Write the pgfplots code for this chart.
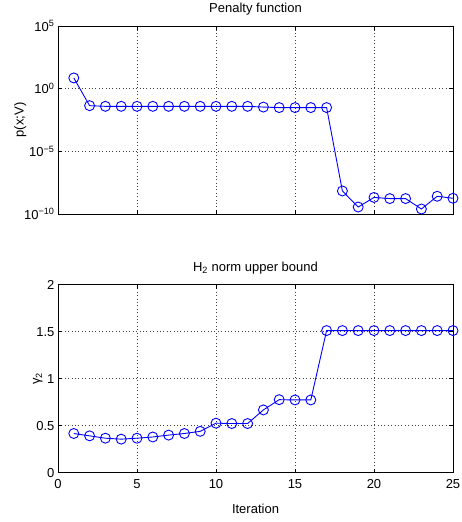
\documentclass[border=0pt]{standalone}
\usepackage{fontspec}
\setmainfont{Liberation Sans}
\usepackage{pgfplots}
\pgfplotsset{compat=1.18}
\begin{document}
\begin{tikzpicture}
\pgfplotsset{
  mystyle/.style={
    width=395pt, height=188pt, scale only axis,
    xmin=0, xmax=25,
    axis line style={black, line width=0.7pt},
    tick align=inside,
    major tick length=4pt,
    tick style={black, line width=0.6pt},
    grid=major,
    major grid style={black!75, dash pattern=on 0.8pt off 2.6pt, line width=0.6pt},
    tick label style={font=\fontsize{13}{15}\selectfont},
    label style={font=\fontsize{13}{15}\selectfont},
    title style={font=\fontsize{13}{15}\selectfont, yshift=1pt},
    /pgf/number format/assume math mode=true,
    xtick={0,5,10,15,20,25},
    xticklabel style={yshift=-3pt},
    xlabel style={yshift=-9pt},
  },
}
\begin{axis}[mystyle,
  at={(0,0)}, anchor=north west,
  ymode=log, ymin=1e-10, ymax=1e5,
  ytick={1e-10,1e-5,1,1e5},
  yticklabels={10\textsuperscript{−10},10\textsuperscript{−5},10\textsuperscript{0},10\textsuperscript{5}},
  xticklabels={},
  title={Penalty function},
  ylabel={p(x;V)},
  ylabel style={yshift=-9pt},
]
\addplot[blue, line width=0.9pt, mark=o, mark size=5pt, mark options={solid, line width=0.9pt}] coordinates {
(1,7.2) (2,0.044) (3,0.039) (4,0.039) (5,0.039) (6,0.039) (7,0.039) (8,0.039) (9,0.039) (10,0.039) (11,0.039) (12,0.039) (13,0.034) (14,0.031) (15,0.031) (16,0.031) (17,0.031)
(18,6.9e-9) (19,3.6e-10) (20,2.1e-9) (21,1.7e-9) (22,1.7e-9) (23,2.5e-10) (24,2.6e-9) (25,1.8e-9)
};
\end{axis}
\begin{axis}[mystyle,
  at={(0,-258.7pt)}, anchor=north west,
  ymin=0, ymax=2,
  ytick={0,0.5,1,1.5,2},
  yticklabels={0,0.5,1,1.5,2},
  title={H\textsubscript{2} norm upper bound},
  xlabel={Iteration},
  ylabel={γ\textsubscript{2}},
  ylabel style={yshift=-13pt},
]
\addplot[blue, line width=0.9pt, mark=o, mark size=5pt, mark options={solid, line width=0.9pt}] coordinates {
(1,0.417) (2,0.392) (3,0.367) (4,0.357) (5,0.367) (6,0.38) (7,0.40) (8,0.417) (9,0.44) (10,0.527) (11,0.523) (12,0.523) (13,0.668) (14,0.777) (15,0.774) (16,0.774)
(17,1.512) (18,1.512) (19,1.512) (20,1.512) (21,1.512) (22,1.512) (23,1.512) (24,1.512) (25,1.512)
};
\end{axis}
\pgfresetboundingbox
\path[use as bounding box] (-58pt,26pt) rectangle (404pt,-496pt);
\end{tikzpicture}
\end{document}
